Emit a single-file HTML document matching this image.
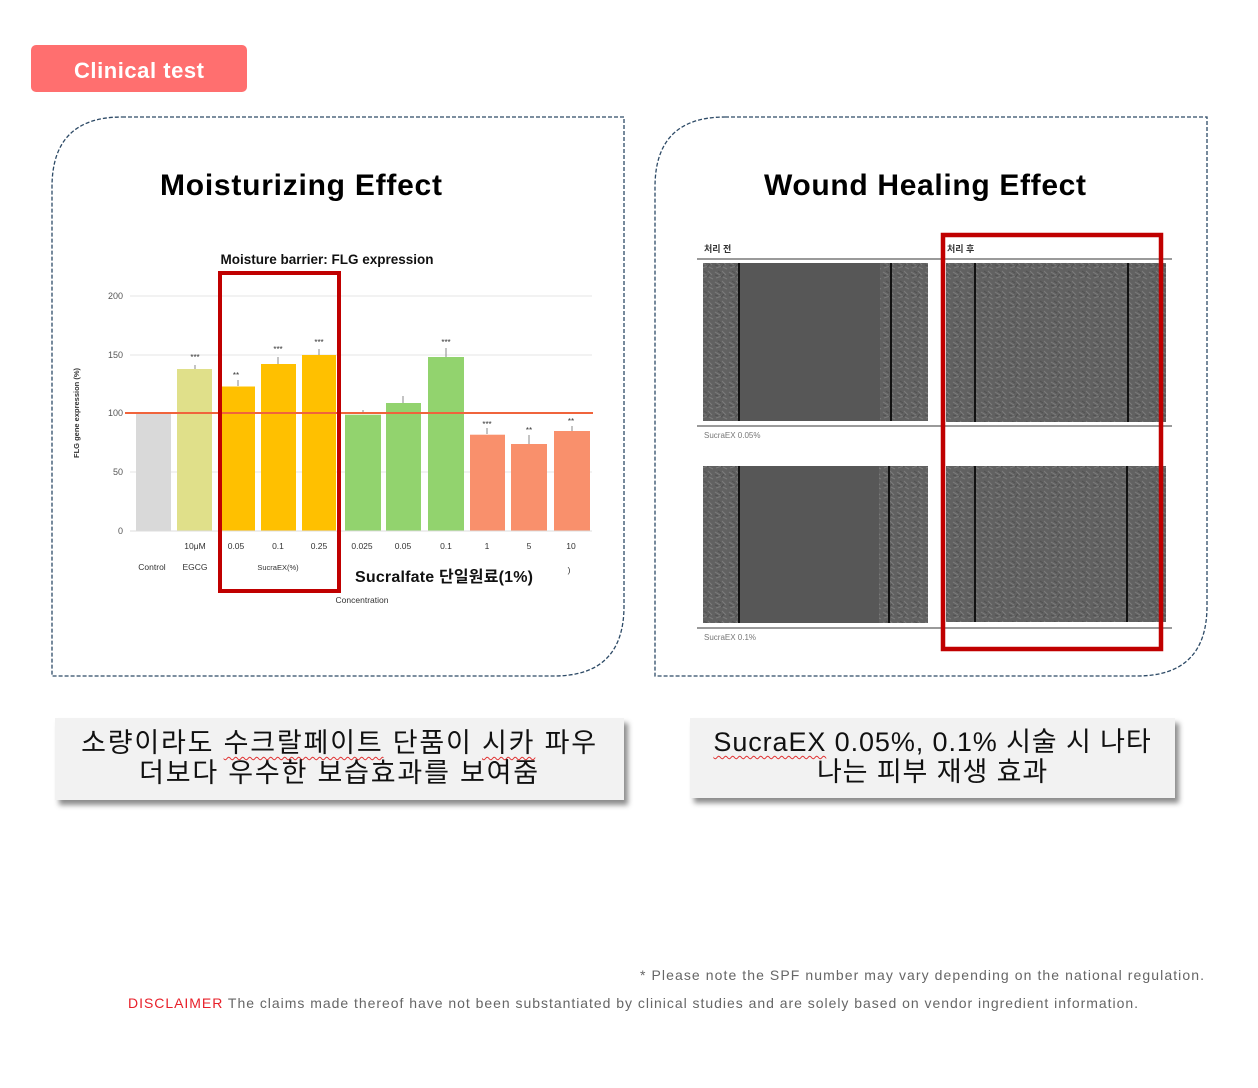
<!DOCTYPE html>
<html><head><meta charset="utf-8"><style>
body{margin:0;background:#fff;width:1258px;height:1088px;overflow:hidden;position:relative;font-family:"Liberation Sans","Noto Sans CJK KR",sans-serif}
.tb{position:absolute;background:#f2f2f2;box-shadow:4px 5px 5px rgba(0,0,0,.45);text-align:center;font-family:"Liberation Sans","Noto Sans CJK KR",sans-serif;font-size:27px;line-height:30px;color:#111;white-space:nowrap}
.wv{text-decoration:underline wavy #e03030;text-decoration-thickness:1px;text-underline-offset:4px}
</style></head><body>
<svg width="1258" height="1088" style="position:absolute;left:0;top:0" font-family="Liberation Sans, Noto Sans CJK KR, sans-serif">
<defs>
<pattern id="cells" width="14" height="10" patternUnits="userSpaceOnUse">
<rect width="14" height="10" fill="#616161"/>
<path d="M1 2 l5 3 M8 1 l4 4 M2 8 l6 -2 M9 7 l4 2" stroke="#7c7c7c" stroke-width="1"/>
<path d="M4 1 l3 2 M10 4 l-3 3 M1 5 l3 1" stroke="#505050" stroke-width="1"/>
</pattern>
</defs>
<rect x="31" y="45" width="216" height="47" rx="5" fill="#ff6f6f"/>
<text x="139" y="78" text-anchor="middle" font-size="22" font-weight="bold" fill="#fff" textLength="130">Clinical test</text>
<path d="M122 117 H624 V606 Q624 676 554 676 H52 V187 Q52 117 122 117 Z" fill="none" stroke="#2d4a66" stroke-width="1.3" stroke-dasharray="4 2"/>
<path d="M725 117 H1207 V606 Q1207 676 1137 676 H655 V187 Q655 117 725 117 Z" fill="none" stroke="#2d4a66" stroke-width="1.3" stroke-dasharray="4 2"/>
<text x="160" y="195" font-size="30" font-weight="bold" textLength="282">Moisturizing Effect</text>
<text x="764" y="195" font-size="30" font-weight="bold" textLength="322">Wound Healing Effect</text>
<text x="327" y="264" text-anchor="middle" font-size="13.5" font-weight="bold" fill="#111">Moisture barrier: FLG expression</text>
<g stroke="#e6e6e6" stroke-width="1"><line x1="130" y1="296" x2="592" y2="296"/><line x1="130" y1="355" x2="592" y2="355"/><line x1="130" y1="472" x2="592" y2="472"/></g>
<g font-size="9" fill="#555" text-anchor="end"><text x="123" y="299">200</text><text x="123" y="358">150</text><text x="123" y="416">100</text><text x="123" y="475">50</text><text x="123" y="534">0</text></g>
<text transform="translate(79,413) rotate(-90)" text-anchor="middle" font-size="7.5" font-weight="bold" fill="#333">FLG gene expression (%)</text>
<g>
<rect x="136" y="413.5" width="35" height="117.5" fill="#d9d9d9"/>
<rect x="177" y="369" width="35" height="162" fill="#e0e08a"/>
<rect x="222" y="386.5" width="33" height="144.5" fill="#ffc000"/>
<rect x="261" y="364" width="35" height="167" fill="#ffc000"/>
<rect x="302" y="355" width="34" height="176" fill="#ffc000"/>
<rect x="345" y="414.7" width="36" height="116.3" fill="#92d36e"/>
<rect x="386" y="403" width="35" height="128" fill="#92d36e"/>
<rect x="428" y="357" width="36" height="174" fill="#92d36e"/>
<rect x="470" y="434.7" width="35" height="96.3" fill="#f9906c"/>
<rect x="511" y="444" width="36" height="87" fill="#f9906c"/>
<rect x="554" y="431" width="36" height="100" fill="#f9906c"/>
</g>
<g stroke="#888" stroke-width="1"><path d="M195 369v-4M238 386v-6M278 364v-7M319 355v-6M363 414v-4M403 403v-7M446 357v-9M487 434v-6M529 444v-9M572 431v-5"/></g>
<g font-size="8" fill="#333" text-anchor="middle"><text x="195" y="360">***</text><text x="236" y="378">**</text><text x="278" y="352">***</text><text x="319" y="345">***</text><text x="446" y="345">***</text><text x="487" y="427">***</text><text x="529" y="433">**</text><text x="571" y="424">**</text></g>
<line x1="125" y1="413" x2="593" y2="413" stroke="#f0643c" stroke-width="2"/>
<line x1="130" y1="531" x2="592" y2="531" stroke="#ddd"/>
<g font-size="8.5" fill="#333" text-anchor="middle"><text x="195" y="549">10μM</text><text x="236" y="549">0.05</text><text x="278" y="549">0.1</text><text x="319" y="549">0.25</text><text x="362" y="549">0.025</text><text x="403" y="549">0.05</text><text x="446" y="549">0.1</text><text x="487" y="549">1</text><text x="529" y="549">5</text><text x="571" y="549">10</text>
<text x="152" y="570">Control</text><text x="195" y="570">EGCG</text><text x="278" y="570" font-size="7.5">SucraEX(%)</text><text x="362" y="603">Concentration</text><text x="569" y="573">)</text></g>
<text x="355" y="582" font-size="16" font-weight="bold" fill="#111" textLength="178">Sucralfate 단일원료(1%)</text>
<rect x="220" y="273" width="119" height="318" fill="none" stroke="#c00000" stroke-width="4"/>
<text x="704" y="252" font-size="9" font-weight="bold" fill="#333">처리 전</text>
<text x="947" y="252" font-size="9" font-weight="bold" fill="#333">처리 후</text>
<g stroke="#9a9a9a" stroke-width="2"><line x1="697" y1="259" x2="1172" y2="259"/><line x1="697" y1="426" x2="1172" y2="426"/><line x1="697" y1="628" x2="1172" y2="628"/></g>
<rect x="703" y="263" width="225" height="158" fill="url(#cells)"/>
<rect x="740" y="263" width="140" height="158" fill="#575757"/>
<rect x="946" y="263" width="220" height="159" fill="url(#cells)"/>
<rect x="703" y="466" width="225" height="157" fill="url(#cells)"/>
<rect x="739" y="466" width="140" height="157" fill="#575757"/>
<rect x="946" y="466" width="220" height="156" fill="url(#cells)"/>
<g stroke="#111" stroke-width="2"><line x1="739" y1="263" x2="739" y2="421"/><line x1="891" y1="263" x2="891" y2="421"/><line x1="975" y1="263" x2="975" y2="422"/><line x1="1128" y1="263" x2="1128" y2="422"/><line x1="739" y1="466" x2="739" y2="623"/><line x1="889" y1="466" x2="889" y2="623"/><line x1="975" y1="466" x2="975" y2="622"/><line x1="1127" y1="466" x2="1127" y2="622"/></g>
<text x="704" y="438" font-size="8" fill="#777">SucraEX 0.05%</text>
<text x="704" y="640" font-size="8" fill="#777">SucraEX 0.1%</text>
<rect x="943" y="235" width="218" height="414" fill="none" stroke="#c00000" stroke-width="4.5"/>
<text x="640" y="980" font-size="14" fill="#666" textLength="564">* Please note the SPF number may vary depending on the national regulation.</text>
<text x="128" y="1008" font-size="14" fill="#666" textLength="1010"><tspan fill="#e8202a">DISCLAIMER</tspan> The claims made thereof have not been substantiated by clinical studies and are solely based on vendor ingredient information.</text>
</svg>
<div class="tb" style="left:55px;top:718px;width:569px;height:82px;padding-top:10px;box-sizing:border-box;letter-spacing:1.8px">소량이라도 <span class="wv">수크랄페이트</span> 단품이 <span class="wv">시카</span> 파우<br>더보다 우수한 보습효과를 보여줌</div>
<div class="tb" style="left:690px;top:718px;width:485px;height:80px;padding-top:9px;box-sizing:border-box;letter-spacing:0.9px"><span class="wv">SucraEX</span> 0.05%, 0.1% 시술 시 나타<br>나는 피부 재생 효과</div>
</body></html>
